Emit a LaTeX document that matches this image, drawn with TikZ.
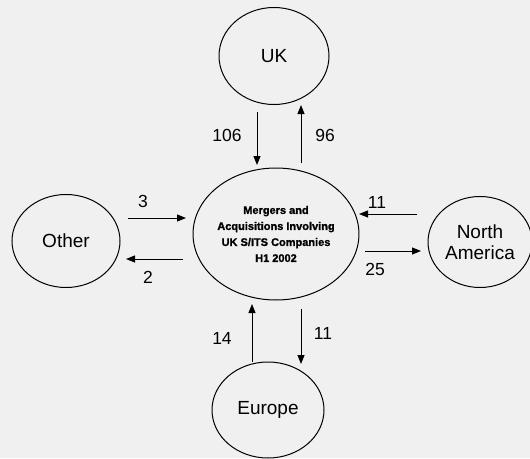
\documentclass[tikz,border=0pt]{standalone}
\usepackage{fontspec}
\setmainfont{Liberation Sans}
\newfontfamily\heavyfont[FakeBold=1.2]{Liberation Sans Bold}
\usetikzlibrary{shapes.geometric,arrows.meta}
\begin{document}
\begin{tikzpicture}[x=1pt,y=-1pt,
  region/.style={draw=black,line width=1pt,ellipse,inner sep=0pt,font=\fontsize{19}{21}\selectfont,align=center},
  flow/.style={draw=black,line width=1pt,-{Triangle[length=9pt,width=7pt]}},
  num/.style={font=\fontsize{17.5}{20}\selectfont,inner sep=0pt}]
\useasboundingbox (0,0) rectangle (530,458);
\fill[black!6] (0,0) rectangle (530,458);
% regions
\node[region,minimum width=110pt,minimum height=97pt] (uk) at (274,56) {UK};
\node[region,minimum width=158pt,minimum height=132pt,font=\heavyfont\fontsize{11}{16}\selectfont] (ma) at (276,234)
  {Mergers and\\Acquisitions Involving\\UK S/ITS Companies\\H1 2002};
\node[region,minimum width=112pt,minimum height=96pt] (eu) at (268,410) {Europe};
\node[region,minimum width=108pt,minimum height=93pt] (ot) at (66,241) {Other};
\node[region,minimum width=104pt,minimum height=91pt] (na) at (480,242) {North\\America};
% arrow end points
\coordinate (ukA) at (257,112); \coordinate (maA) at (257,165);
\coordinate (maB) at (301,163); \coordinate (ukB) at (301,105);
\coordinate (euC) at (252,362); \coordinate (maC) at (252,304);
\coordinate (maD) at (301,309); \coordinate (euD) at (301,364);
\coordinate (otE) at (128,218); \coordinate (maE) at (186,218);
\coordinate (maF) at (183,259); \coordinate (otF) at (126,259);
\coordinate (naG) at (417,214); \coordinate (maG) at (359,214);
\coordinate (maH) at (365,251); \coordinate (naH) at (421,251);
% flows
\draw[flow] (ukA) -- (maA);
\draw[flow] (maB) -- (ukB);
\draw[flow] (euC) -- (maC);
\draw[flow] (maD) -- (euD);
\draw[flow] (otE) -- (maE);
\draw[flow] (maF) -- (otF);
\draw[flow] (naG) -- (maG);
\draw[flow] (maH) -- (naH);
% labels
\node[num] (l106) at (227,135) {106};
\node[num] (l96) at (325,135) {96};
\node[num] (l14) at (222,338) {14};
\node[num] (l11b) at (323,333) {11};
\node[num] (l3) at (143,201) {3};
\node[num] (l2) at (148,277) {2};
\node[num] (l11a) at (377,202) {11};
\node[num] (l25) at (375,269) {25};
\end{tikzpicture}
\end{document}
